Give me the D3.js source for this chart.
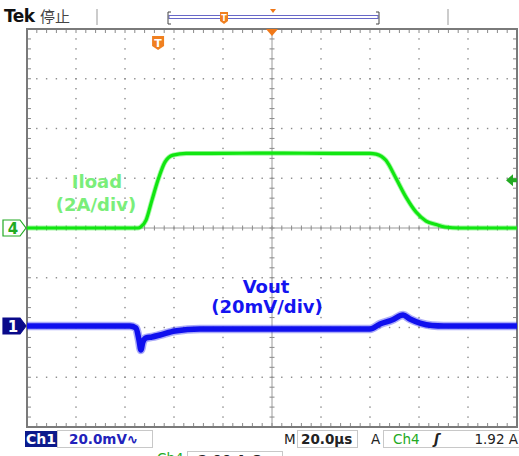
<!DOCTYPE html>
<html><head><meta charset="utf-8">
<script src="https://cdn.jsdelivr.net/npm/d3@7"></script>
<style>body{margin:0;background:#fff}svg{display:block}</style>
</head><body><svg id="c" width="519" height="456"></svg>
<script>
// ---- data ----
// time in µs from left edge of screen (10 div x 20 µs)
const iloadTime = [0, 45.3, 46.5, 48.6, 51.0, 53.5, 56.3, 59.6, 65.0, 75, 100, 125, 140.0, 142.5, 146.5, 150.6, 154.7, 158.8, 162.9, 167.0, 170.6, 176.7, 200];
const iloadAmps = [0, 0, 0.05, 0.32, 1.12, 1.94, 2.65, 2.93, 3.0, 3.0, 3.01, 3.0, 3.0, 2.97, 2.72, 2.0, 1.24, 0.64, 0.28, 0.14, 0.04, 0, 0];
const voutTime = [0, 42.0, 44.5, 45.7, 46.5, 47.3, 48.6, 51.0, 54.3, 60.4, 70.6, 91, 120, 140.0, 144.1, 149.0, 153.5, 156.3, 160.4, 165.3, 170, 200];
const voutMv = [0, 0, -0.8, -5.6, -9.6, -6.4, -4.8, -4.4, -3.6, -2.0, -1.2, -1.2, -1.2, -1.2, 0.8, 2.4, 4.4, 2.8, 1.2, 0.2, 0, 0];
const ch4Offset = 0;      // divisions
const ch1Offset = -1.97;  // divisions
const ampsPerDiv = 2, mvPerDiv = 20, usPerDiv = 20;
const triggerTime = 53.5, triggerLevel = 1.92;
const labels = {ch1Scale: "20.0mV", timeBase: "20.0µs", trigLevel: "1.92 A", ch4Scale: "2.00 A Ω"};

// ---- layout ----
const svg = d3.select("#c");
const L = 27, R = 517, T = 29, B = 427;
const x = d3.scaleLinear().domain([0, 10 * usPerDiv]).range([L, R]);
const y = d3.scaleLinear().domain([-4, 4]).range([B, T]);
const gridCol = "#8a8a8a";

// grid: dots on major lines every minor division
const g = svg.append("g");
const xMaj = d3.range(0, 11).map(i => i * usPerDiv);
const yMaj = d3.range(-4, 5);
const xMin = d3.range(0, 51).map(i => i * usPerDiv / 5);
const yMin = d3.range(0, 41).map(i => -4 + i / 5);
xMaj.slice(1, 10).forEach(t => {
  if (t === 100) return;
  yMin.forEach(v => g.append("rect").attr("x", x(t) - 0.7).attr("y", y(v) - 0.7).attr("width", 1.4).attr("height", 1.4).attr("fill", gridCol));
});
yMaj.slice(1, 8).forEach(v => {
  if (v === 0) return;
  xMin.forEach(t => g.append("rect").attr("x", x(t) - 0.7).attr("y", y(v) - 0.7).attr("width", 1.4).attr("height", 1.4).attr("fill", gridCol));
});
// center cross with ticks
g.append("line").attr("x1", x(100)).attr("x2", x(100)).attr("y1", T).attr("y2", B).attr("stroke", "#9a9a9a").attr("stroke-width", 1);
g.append("line").attr("x1", L).attr("x2", R).attr("y1", y(0)).attr("y2", y(0)).attr("stroke", "#9a9a9a").attr("stroke-width", 1);
yMin.forEach(v => g.append("line").attr("x1", x(100) - 2.5).attr("x2", x(100) + 2.5).attr("y1", y(v)).attr("y2", y(v)).attr("stroke", "#8a8a8a"));
xMin.forEach(t => g.append("line").attr("x1", x(t)).attr("x2", x(t)).attr("y1", y(0) - 2.5).attr("y2", y(0) + 2.5).attr("stroke", "#8a8a8a"));
// border ticks
xMin.forEach(t => {
  g.append("line").attr("x1", x(t)).attr("x2", x(t)).attr("y1", T).attr("y2", T + 4).attr("stroke", "#8a8a8a");
  g.append("line").attr("x1", x(t)).attr("x2", x(t)).attr("y1", B - 4).attr("y2", B).attr("stroke", "#8a8a8a");
});
yMin.forEach(v => {
  g.append("line").attr("x1", L).attr("x2", L + 4).attr("y1", y(v)).attr("y2", y(v)).attr("stroke", "#8a8a8a");
  g.append("line").attr("x1", R - 4).attr("x2", R).attr("y1", y(v)).attr("y2", y(v)).attr("stroke", "#8a8a8a");
});
g.append("rect").attr("x", L).attr("y", T).attr("width", R - L).attr("height", B - T).attr("fill", "none").attr("stroke", "#7a7a7a").attr("stroke-width", 2);

// ---- waveforms ----
const iData = iloadTime.map((t, i) => [t, iloadAmps[i]]);
const vData = voutTime.map((t, i) => [t, voutMv[i]]);
const iLine = d3.line().x(d => x(d[0])).y(d => y(ch4Offset + d[1] / ampsPerDiv)).curve(d3.curveMonotoneX);
const vLine = d3.line().x(d => x(d[0])).y(d => y(ch1Offset + d[1] / mvPerDiv)).curve(d3.curveMonotoneX);
svg.append("path").attr("d", iLine(iData)).attr("fill", "none").attr("stroke", "#22ee22").attr("stroke-width", 5).attr("opacity", 0.4);
svg.append("path").attr("d", iLine(iData)).attr("fill", "none").attr("stroke", "#11e611").attr("stroke-width", 3.2);
svg.append("path").attr("d", vLine(vData)).attr("fill", "none").attr("stroke", "#1010ee").attr("stroke-width", 8.5).attr("opacity", 0.35);
svg.append("path").attr("d", vLine(vData)).attr("fill", "none").attr("stroke", "#1010ee").attr("stroke-width", 5.5);

// ---- annotations ----
const lab = svg.append("g").attr("font-family", "DejaVu Sans, sans-serif").attr("font-weight", "bold").attr("font-size", 18).attr("text-anchor", "middle");
lab.append("text").attr("x", 97).attr("y", 188).attr("fill", "#7aee7a").text("Iload");
lab.append("text").attr("x", 96).attr("y", 211).attr("fill", "#7aee7a").text("(2A/div)");
lab.append("text").attr("x", 266).attr("y", 293).attr("fill", "#1414f0").text("Vout");
lab.append("text").attr("x", 267).attr("y", 313).attr("fill", "#1414f0").text("(20mV/div)");

// channel markers
function marker(yy, label, filled, col) {
  const p = `M3,${yy - 8} L20,${yy - 8} L26,${yy} L20,${yy + 8} L3,${yy + 8} Z`;
  svg.append("path").attr("d", p).attr("fill", filled ? col : "#fff").attr("stroke", col).attr("stroke-width", 1.2);
  svg.append("text").attr("x", 13).attr("y", yy + 6).attr("text-anchor", "middle").attr("font-family", "DejaVu Sans, sans-serif").attr("font-weight", "bold").attr("font-size", 15).attr("fill", filled ? "#fff" : col).text(label);
}
marker(y(ch4Offset), "4", false, "#22aa22");
marker(y(ch1Offset), "1", true, "#0a0a8a");

// trigger level arrow (right)
const ty = y(ch4Offset + triggerLevel / ampsPerDiv);
svg.append("path").attr("d", `M506,${ty} L513,${ty - 6} L513,${ty - 2} L517,${ty - 2} L517,${ty + 2} L513,${ty + 2} L513,${ty + 6} Z`).attr("fill", "#22aa22");

// trigger position marker T
const tx = x(triggerTime);
function tShield(cx, cy, s) {
  svg.append("path").attr("d", `M${cx - 6 * s},${cy - 7 * s} L${cx + 6 * s},${cy - 7 * s} L${cx + 6 * s},${cy + 3 * s} L${cx},${cy + 7 * s} L${cx - 6 * s},${cy + 3 * s} Z`).attr("fill", "#f08020");
  svg.append("text").attr("x", cx).attr("y", cy + 4 * s).attr("text-anchor", "middle").attr("font-family", "DejaVu Sans, sans-serif").attr("font-weight", "bold").attr("font-size", 11 * s).attr("fill", "#fff").text("T");
}
tShield(tx, 43, 1);
// expansion point triangle
svg.append("path").attr("d", `M${x(100) - 6},${T} L${x(100) + 6},${T} L${x(100)},${T + 7} Z`).attr("fill", "#f07818");

// ---- top bar ----
svg.append("text").attr("x", 4).attr("y", 22).attr("font-family", "DejaVu Sans, sans-serif").attr("font-weight", "bold").attr("font-size", 17).attr("letter-spacing", -0.5).attr("fill", "#111").text("Tek");
svg.append("text").attr("x", 40).attr("y", 22).attr("font-family", "Noto Sans CJK SC, sans-serif").attr("font-size", 15).attr("fill", "#444").text("停止");
[97, 448].forEach(xx => svg.append("line").attr("x1", xx).attr("x2", xx).attr("y1", 9).attr("y2", 25).attr("stroke", "#bbb").attr("stroke-width", 1.5));
svg.append("rect").attr("x", 169).attr("y", 15.5).attr("width", 209).attr("height", 3).attr("fill", "none").attr("stroke", "#6868c8").attr("stroke-width", 1);
svg.append("path").attr("d", "M171,12 L168,12 L168,24 L171,24").attr("fill", "none").attr("stroke", "#444").attr("stroke-width", 1);
svg.append("path").attr("d", "M376,12 L379,12 L379,24 L376,24").attr("fill", "none").attr("stroke", "#444").attr("stroke-width", 1);
// T on record bar
svg.append("path").attr("d", "M220,12 L228,12 L228,21 L224,24 L220,21 Z").attr("fill", "#f08020");
svg.append("text").attr("x", 224).attr("y", 21).attr("text-anchor", "middle").attr("font-family", "DejaVu Sans, sans-serif").attr("font-weight", "bold").attr("font-size", 8).attr("fill", "#fff").text("T");
svg.append("path").attr("d", "M270,9 L276,9 L273,13 Z").attr("fill", "#f07818");

// ---- bottom bar ----
const bf = "DejaVu Sans, sans-serif";
svg.append("rect").attr("x", 25).attr("y", 431).attr("width", 32).attr("height", 16).attr("fill", "#0c1a8c");
svg.append("text").attr("x", 41).attr("y", 444).attr("text-anchor", "middle").attr("font-family", bf).attr("font-weight", "bold").attr("font-size", 14).attr("fill", "#fff").text("Ch1");
svg.append("rect").attr("x", 57.5).attr("y", 430.5).attr("width", 95).attr("height", 17).attr("fill", "#fff").attr("stroke", "#c8c8c8");
svg.append("text").attr("x", 69).attr("y", 444).attr("font-family", bf).attr("font-weight", "bold").attr("font-size", 13.5).attr("fill", "#2222bb").text(labels.ch1Scale + "∿");
svg.append("text").attr("x", 284).attr("y", 444).attr("font-family", bf).attr("font-size", 13.5).attr("fill", "#222").text("M");
svg.append("rect").attr("x", 297.5).attr("y", 430.5).attr("width", 60).attr("height", 17).attr("fill", "#fff").attr("stroke", "#c8c8c8");
svg.append("text").attr("x", 301).attr("y", 444).attr("font-family", bf).attr("font-weight", "bold").attr("font-size", 13.5).attr("fill", "#222").text(labels.timeBase);
svg.append("text").attr("x", 371).attr("y", 444).attr("font-family", bf).attr("font-size", 13.5).attr("fill", "#222").text("A");
svg.append("rect").attr("x", 383.5).attr("y", 430.5).attr("width", 140).attr("height", 17).attr("fill", "#fff").attr("stroke", "#c8c8c8");
svg.append("text").attr("x", 393).attr("y", 444).attr("font-family", bf).attr("font-size", 13.5).attr("fill", "#22aa22").text("Ch4");
svg.append("text").attr("x", 434).attr("y", 444).attr("font-family", bf).attr("font-style", "italic").attr("font-weight", "bold").attr("font-size", 13.5).attr("fill", "#222").text("ʃ");
svg.append("text").attr("x", 518).attr("y", 444).attr("text-anchor", "end").attr("font-family", bf).attr("font-size", 13.5).attr("fill", "#222").text(labels.trigLevel);
svg.append("text").attr("x", 157).attr("y", 463).attr("font-family", bf).attr("font-size", 13.5).attr("fill", "#22aa22").text("Ch4");
svg.append("rect").attr("x", 187.5).attr("y", 451.5).attr("width", 95).attr("height", 17).attr("fill", "#fff").attr("stroke", "#c8c8c8");
svg.append("text").attr("x", 198).attr("y", 465).attr("font-family", bf).attr("font-weight", "bold").attr("font-size", 13.5).attr("fill", "#222").text(labels.ch4Scale);
</script></body></html>
